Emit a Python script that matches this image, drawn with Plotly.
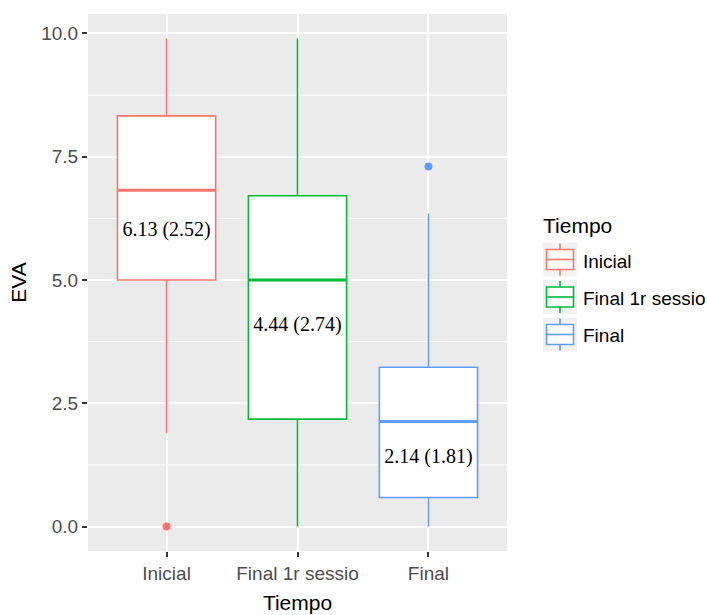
import plotly.graph_objects as go

# Summary statistics of EVA per time point
categories = ["Inicial", "Final 1r sessio", "Final"]
colors = ["#F8766D", "#00BA38", "#619CFF"]
q1 = [5.0, 2.18, 0.59]
medians = [6.82, 5.0, 2.13]
q3 = [8.33, 6.71, 3.23]
lower_whiskers = [1.9, 0.0, 0.0]
upper_whiskers = [9.9, 9.9, 6.35]
outliers = [[0.0], [], [7.3]]

# Mean (SD) annotations and their vertical positions
labels = ["6.13 (2.52)", "4.44 (2.74)", "2.14 (1.81)"]
label_y = [6.0, 4.07, 1.39]

y_ticks = [0.0, 2.5, 5.0, 7.5, 10.0]
y_tick_text = ["0.0", "2.5", "5.0", "7.5", "10.0"]

positions = [1, 2, 3]
box_width = 0.75

W, H = 707, 615
M_L, M_R, M_T, M_B = 88, 200, 14, 64
plot_w = W - M_L - M_R
plot_h = H - M_T - M_B


def px_x(px):
    return (px - M_L) / plot_w


def px_y(py):
    return (H - M_B - py) / plot_h


fig = go.Figure()

for i, cat in enumerate(categories):
    fig.add_trace(go.Box(
        name=cat,
        x=[positions[i]],
        q1=[q1[i]], median=[medians[i]], q3=[q3[i]],
        lowerfence=[lower_whiskers[i]], upperfence=[upper_whiskers[i]],
        width=box_width,
        whiskerwidth=0,
        fillcolor="white",
        line=dict(color=colors[i], width=1.6),
        boxpoints=False,
        hoverinfo="skip",
        showlegend=False,
    ))
    # thicker median bar
    fig.add_trace(go.Scatter(
        x=[positions[i] - box_width / 2, positions[i] + box_width / 2],
        y=[medians[i], medians[i]],
        mode="lines",
        line=dict(color=colors[i], width=3),
        showlegend=False, hoverinfo="skip",
    ))
    if outliers[i]:
        fig.add_trace(go.Scatter(
            x=[positions[i]] * len(outliers[i]),
            y=outliers[i],
            mode="markers",
            marker=dict(color=colors[i], size=8),
            showlegend=False, hoverinfo="skip",
        ))

fig.add_trace(go.Scatter(
    x=positions, y=label_y, text=labels,
    mode="text",
    textfont=dict(family="Liberation Serif, Times New Roman, serif", size=20, color="black"),
    showlegend=False, hoverinfo="skip",
))

# minor grid lines between the major y ticks
minor_vals = [1.25, 3.75, 6.25, 8.75]
for v in minor_vals:
    fig.add_shape(type="line", xref="paper", x0=0, x1=1, yref="y", y0=v, y1=v,
                  line=dict(color="white", width=1), layer="below")

# legend drawn with ggplot-style keys
sans = "Liberation Sans, Arial, sans-serif"
fig.add_annotation(xref="paper", yref="paper", x=px_x(541), y=px_y(225),
                   xanchor="left", yanchor="middle", showarrow=False,
                   text="Tiempo", font=dict(family=sans, size=21, color="black"))
key_left, key_right = 543, 577
key_centers = [259.5, 297, 334.5]
for i, cat in enumerate(categories):
    cy = key_centers[i]
    fig.add_shape(type="rect", xref="paper", yref="paper",
                  x0=px_x(key_left), x1=px_x(key_right),
                  y0=px_y(cy + 17), y1=px_y(cy - 17),
                  fillcolor="#f2f2f2", line=dict(width=0))
    fig.add_shape(type="line", xref="paper", yref="paper",
                  x0=px_x(560), x1=px_x(560), y0=px_y(cy + 16), y1=px_y(cy - 16),
                  line=dict(color=colors[i], width=1.6))
    fig.add_shape(type="rect", xref="paper", yref="paper",
                  x0=px_x(546.5), x1=px_x(573.5),
                  y0=px_y(cy + 10), y1=px_y(cy - 10),
                  fillcolor="white", line=dict(color=colors[i], width=1.6))
    fig.add_shape(type="line", xref="paper", yref="paper",
                  x0=px_x(546.5), x1=px_x(573.5), y0=px_y(cy), y1=px_y(cy),
                  line=dict(color=colors[i], width=1.6))
    fig.add_annotation(xref="paper", yref="paper", x=px_x(581), y=px_y(cy + 1.5),
                       xanchor="left", yanchor="middle", showarrow=False,
                       text=cat, font=dict(family=sans, size=19, color="black"))

axis_font = dict(family=sans, size=19, color="#4d4d4d")
title_font = dict(family=sans, size=21, color="black")

fig.update_layout(
    width=W, height=H,
    margin=dict(l=M_L, r=M_R, t=M_T, b=M_B, autoexpand=False),
    paper_bgcolor="white",
    plot_bgcolor="#ebebeb",
    showlegend=False,
    xaxis=dict(
        range=[0.4, 3.6],
        tickmode="array", tickvals=positions, ticktext=categories,
        showgrid=True, gridcolor="white", gridwidth=2,
        zeroline=False,
        ticks="outside", ticklen=5, tickcolor="#333333", tickwidth=1.5,
        tickfont=axis_font,
        title=dict(text="Tiempo", font=title_font, standoff=12),
    ),
    yaxis=dict(
        range=[-0.495, 10.395],
        tickmode="array", tickvals=y_ticks, ticktext=y_tick_text,
        showgrid=True, gridcolor="white", gridwidth=2,
        zeroline=False,
        ticks="outside", ticklen=5, tickcolor="#333333", tickwidth=1.5,
        tickfont=axis_font,
        title=dict(text="EVA", font=title_font, standoff=8),
    ),
    boxmode="overlay",
)

fig.write_html("out.html")
